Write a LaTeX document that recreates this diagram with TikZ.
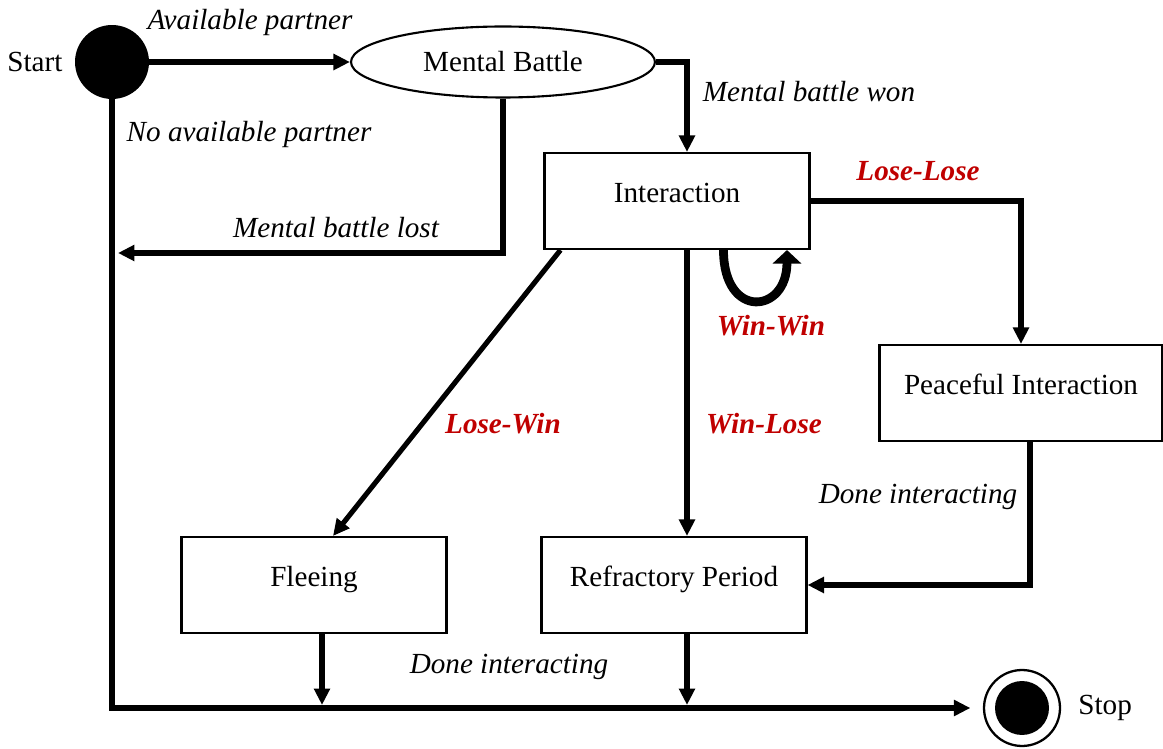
\documentclass[tikz,border=0pt]{standalone}
\usepackage{fontspec}
\setmainfont{Liberation Serif}
\usetikzlibrary{positioning, arrows.meta, shapes.geometric}
\definecolor{outcomered}{RGB}{192,0,0}

\begin{document}
\begin{tikzpicture}[
    x=0.02cm, y=-0.02cm,
    state/.style={rectangle, draw, line width=1.2pt, minimum width=5.3cm, minimum height=1.92cm, text height=0.4cm, text depth=0.35cm, font=\fontsize{16.6}{20}\selectfont},
    battle/.style={ellipse, draw, line width=1.2pt, minimum width=6.08cm, minimum height=1.42cm, inner sep=0pt, font=\fontsize{16.6}{20}\selectfont},
    trans/.style={-{Triangle[length=0.33cm, width=0.31cm]}, line width=2.9pt},
    cond/.style={font=\fontsize{16.6}{20}\selectfont\itshape},
    outcome/.style={font=\fontsize{16.6}{20}\selectfont\bfseries\itshape, text=outcomered},
    tag/.style={font=\fontsize{16.6}{20}\selectfont}
]
\useasboundingbox (0,0) rectangle (1163,749);

\node[circle, fill=black, minimum size=1.48cm, inner sep=0pt] (start) at (112,62) {};
\node[tag, left=0.12cm of start] (starttag) {Start};
\node[circle, draw, line width=1.3pt, minimum size=1.52cm, inner sep=0pt,
      path picture={\fill (path picture bounding box.center) circle (0.54cm);}] (stop) at (1022,708) {};
\node[tag, right=0.22cm of stop] (stoptag) {Stop};

\node[battle] (mb) at (503,62) {Mental Battle};
\node[state] (inter) at (677,201) {Interaction};
\node[state, minimum width=5.66cm] (peace) at (1021,393) {Peaceful Interaction};
\node[state] (flee) at (314,585) {Fleeing};
\node[state] (refr) at (674,585) {Refractory Period};

\coordinate (lostend) at (118,253);
\coordinate (floor) at (0,705);

% transitions
\draw[trans] (start.east) -- (mb.west);
\draw[trans] (start.south) |- ([xshift=-0.25cm]stop.west);
\draw[trans] (mb.east) -| ([xshift=0.2cm]inter.north);
\draw[trans] (mb.south) |- (lostend);
\draw[trans] ([xshift=0.34cm]inter.south west) -- ([xshift=0.38cm]flee.north);
\draw[trans] ([xshift=0.2cm]inter.south) -- ([xshift=0.2cm]inter.south |- refr.north);
\draw[trans] (inter.east) -| (peace.north);
\draw[trans] ([xshift=0.18cm]peace.south) |- (refr.east);
\draw[trans] ([xshift=0.16cm]flee.south) -- ([xshift=0.16cm]flee.south |- floor);
\draw[trans] ([xshift=0.26cm]refr.south) -- ([xshift=0.26cm]refr.south |- floor);
\draw[-{Triangle[length=0.27cm, width=0.56cm]}, line width=5pt]
    ([xshift=0.93cm]inter.south) .. controls +(0,70) and +(0,64) .. ([xshift=2.2cm]inter.south);

% labels
\node[cond] (lavail) at (250,22) {Available partner};
\node[cond] (lnoavail) at (249,134) {No available partner};
\node[cond] (lwon) at (809,92) {Mental battle won};
\node[cond] (llost) at (336,228) {Mental battle lost};
\node[cond] (ldonepeace) at (918,497) {Done interacting};
\node[cond] (ldone) at (509,667) {Done interacting};
\node[outcome] (lll) at (918,171) {Lose-Lose};
\node[outcome] (lww) at (771,326) {Win-Win};
\node[outcome] (llw) at (503,424) {Lose-Win};
\node[outcome] (lwl) at (764,424) {Win-Lose};

\end{tikzpicture}
\end{document}
